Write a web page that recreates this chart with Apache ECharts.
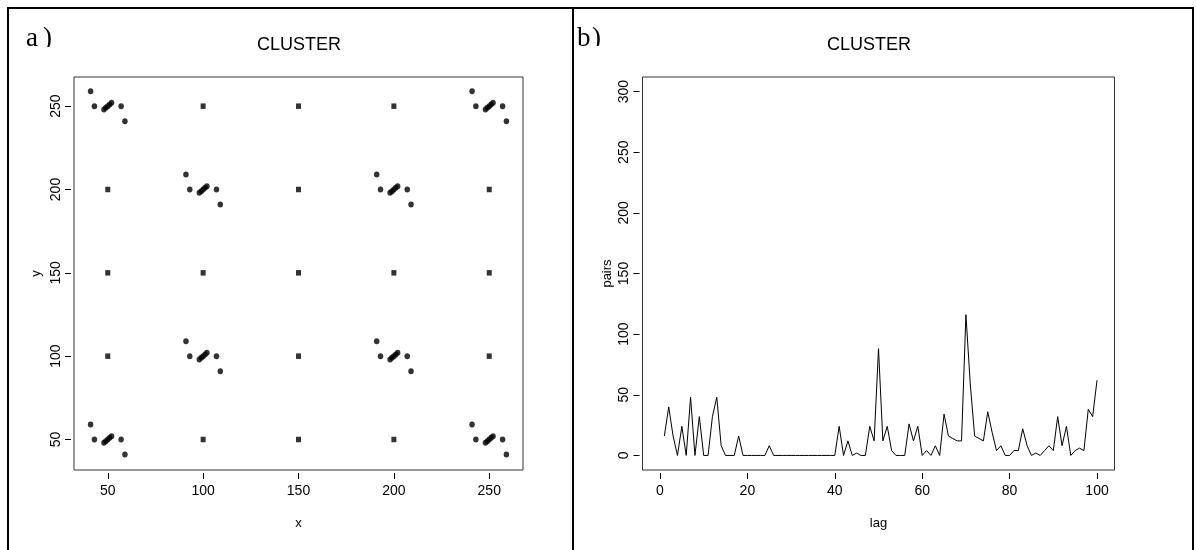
<!DOCTYPE html>
<html>
<head>
<meta charset="utf-8">
<script src="https://cdn.jsdelivr.net/npm/echarts@6/dist/echarts.min.js"></script>
<style>
html,body{margin:0;padding:0;background:#fff;}
#c{width:1196px;height:550px;}
</style>
</head>
<body>
<div id="c"></div>
<script>
// ---- Panel a) : point pattern ----
var clusterX = [
  41,43,48,49,50,51,52,57,59,
  241,243,248,249,250,251,252,257,259,
  91,93,98,99,100,101,102,107,109,
  191,193,198,199,200,201,202,207,209,
  91,93,98,99,100,101,102,107,109,
  191,193,198,199,200,201,202,207,209,
  41,43,48,49,50,51,52,57,59,
  241,243,248,249,250,251,252,257,259
];
var clusterY = [
  259,250,248,249,250,251,252,250,241,
  259,250,248,249,250,251,252,250,241,
  209,200,198,199,200,201,202,200,191,
  209,200,198,199,200,201,202,200,191,
  109,100,98,99,100,101,102,100,91,
  109,100,98,99,100,101,102,100,91,
  59,50,48,49,50,51,52,50,41,
  59,50,48,49,50,51,52,50,41
];
var squareX = [100,150,200, 50,150,250, 50,100,150,200,250, 50,150,250, 100,150,200];
var squareY = [250,250,250, 200,200,200, 150,150,150,150,150, 100,100,100, 50,50,50];
var xTicksA = [50,100,150,200,250];
var yTicksA = [50,100,150,200,250];

// ---- Panel b) : pairs by lag ----
var lags = [
  1,2,3,4,5,6,7,8,9,10,11,12,13,14,15,16,17,18,19,20,
  21,22,23,24,25,26,27,28,29,30,31,32,33,34,35,36,37,38,39,40,
  41,42,43,44,45,46,47,48,49,50,51,52,53,54,55,56,57,58,59,60,
  61,62,63,64,65,66,67,68,69,70,71,72,73,74,75,76,77,78,79,80,
  81,82,83,84,85,86,87,88,89,90,91,92,93,94,95,96,97,98,99,100
];
var pairs = [
  16,40,16,0,24,0,48,0,32,0,
  0,32,48,8,0,0,0,16,0,0,
  0,0,0,0,8,0,0,0,0,0,
  0,0,0,0,0,0,0,0,0,0,
  24,0,12,0,2,0,0,24,12,88,
  12,24,4,0,0,0,26,12,24,0,
  4,0,8,0,34,16,14,12,12,116,
  59,16,14,12,36,19,4,8,0,0,
  4,4,22,8,0,2,0,4,8,4,
  32,8,24,0,4,6,4,38,32,62
];
var xTicksB = [0,20,40,60,80,100];
var yTicksB = [0,50,100,150,200,250,300];

var clusterPts = clusterX.map(function(x,i){return [x, clusterY[i]];});
var squarePts = squareX.map(function(x,i){return [x, squareY[i]];});
var linePts = lags.map(function(l,i){return [l, pairs[i]];});

var FONT = "'Liberation Sans', Arial, sans-serif";
var SERIF = "'Liberation Serif', 'Times New Roman', serif";
function xAx(grid, min, max, ticks, name){
  return {
    gridIndex: grid, type:'value', min:min, max:max, offset:3,
    axisLine:{show:false, onZero:false}, splitLine:{show:false},
    axisTick:{show:true, customValues:ticks, length:6, lineStyle:{color:'#000', width:1}},
    axisLabel:{customValues:ticks, fontSize:14, color:'#000', margin:11, fontFamily:FONT},
    name:name, nameLocation:'middle', nameGap:44,
    nameTextStyle:{fontSize:13, color:'#000', fontFamily:FONT}
  };
}
function yAx(grid, min, max, ticks, name, gap){
  return {
    gridIndex: grid, type:'value', min:min, max:max, offset:3,
    axisLine:{show:false, onZero:false}, splitLine:{show:false},
    axisTick:{show:true, customValues:ticks, length:6, lineStyle:{color:'#000', width:1}},
    axisLabel:{customValues:ticks, fontSize:14, color:'#000', margin:8, rotate:90, fontFamily:FONT},
    name:name, nameLocation:'middle', nameGap:gap, nameRotate:90,
    nameTextStyle:{fontSize:13, color:'#000', fontFamily:FONT}
  };
}

var chart = echarts.init(document.getElementById('c'), null, {renderer:'canvas'});
chart.setOption({
  animation:false,
  backgroundColor:'#fff',
  grid:[
    {left:74, top:77, width:449, height:393, show:true, borderColor:'#333', borderWidth:1, containLabel:false},
    {left:642.5, top:77, width:472, height:393, show:true, borderColor:'#333', borderWidth:1, containLabel:false}
  ],
  xAxis:[
    xAx(0, 32.3, 267.7, xTicksA, 'x'),
    xAx(1, -4, 104, xTicksB, 'lag')
  ],
  yAxis:[
    yAx(0, 31.7, 267.5, yTicksA, 'y', 28),
    yAx(1, -12, 312, yTicksB, 'pairs', 26)
  ],
  series:[
    {type:'scatter', xAxisIndex:0, yAxisIndex:0, data:clusterPts, symbol:'circle', symbolSize:[5.5,6],
     itemStyle:{color:'#000'}, silent:true},
    {type:'scatter', xAxisIndex:0, yAxisIndex:0, data:squarePts, symbol:'rect', symbolSize:[5,5.5],
     itemStyle:{color:'#000'}, silent:true},
    {type:'line', xAxisIndex:1, yAxisIndex:1, data:linePts, symbol:'none', smooth:false,
     lineStyle:{color:'#000', width:1}, silent:true}
  ],
  graphic:[
    {type:'text', x:26, y:38.5, style:{text:'a', font:"27px " + SERIF, fill:'#000', verticalAlign:'middle'}, silent:true, z:1},
    {type:'text', x:43, y:38.5, style:{text:')', font:"27px " + SERIF, fill:'#000', verticalAlign:'middle'}, silent:true, z:1},
    {type:'text', x:577, y:38.5, style:{text:'b', font:"27px " + SERIF, fill:'#000', verticalAlign:'middle'}, silent:true, z:1},
    {type:'text', x:592, y:38.5, style:{text:')', font:"27px " + SERIF, fill:'#000', verticalAlign:'middle'}, silent:true, z:1},
    {type:'rect', shape:{x:15, y:47, width:50, height:10}, style:{fill:'#fff'}, silent:true, z:2},
    {type:'rect', shape:{x:576, y:46, width:45, height:10}, style:{fill:'#fff'}, silent:true, z:2},
    {type:'rect', shape:{x:8, y:8, width:565, height:600}, style:{fill:'none', stroke:'#000', lineWidth:2}, silent:true, z:3},
    {type:'rect', shape:{x:573, y:8, width:620, height:600}, style:{fill:'none', stroke:'#000', lineWidth:2}, silent:true, z:3},
    {type:'text', x:299, y:45, style:{text:'CLUSTER', font:"18px " + FONT, fill:'#000', align:'center', verticalAlign:'middle'}, silent:true},
    {type:'text', x:869, y:45, style:{text:'CLUSTER', font:"18px " + FONT, fill:'#000', align:'center', verticalAlign:'middle'}, silent:true}
  ]
});
</script>
</body>
</html>
